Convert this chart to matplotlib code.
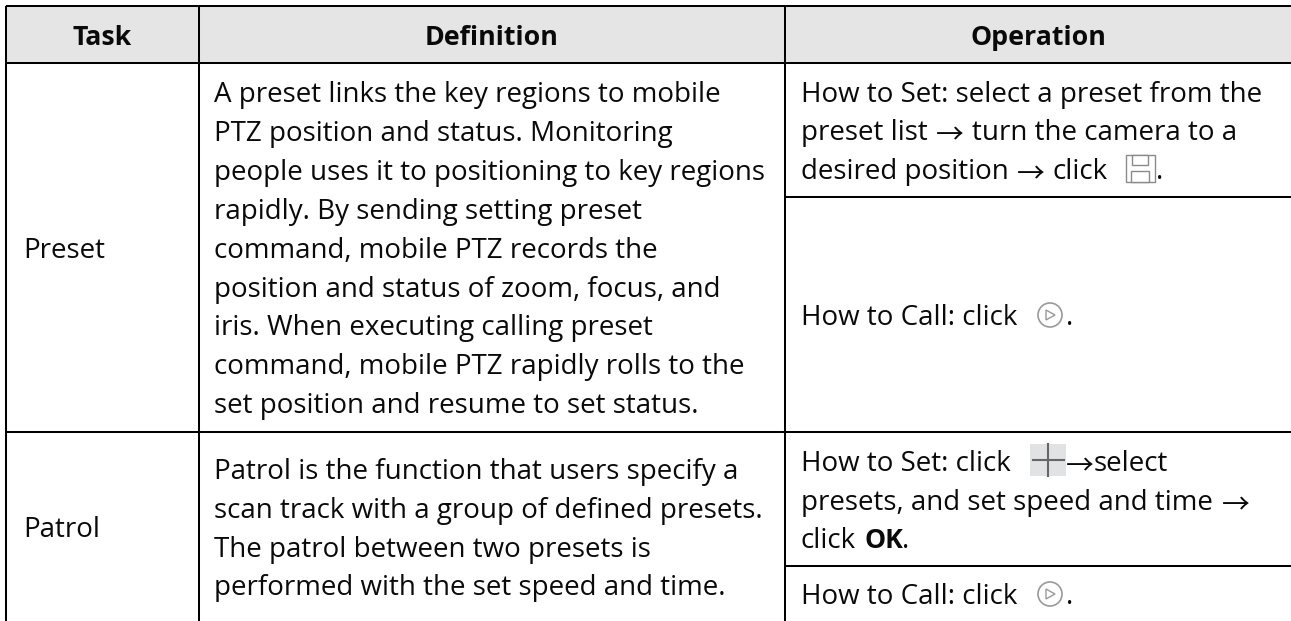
import matplotlib
matplotlib.use('Agg')
import matplotlib.pyplot as plt
from matplotlib.patches import Rectangle, Circle, Polygon

W, H = 1291, 621

headers = ['Task', 'Definition', 'Operation']
tasks = ['Preset', 'Patrol']
preset_definition = [
    'A preset links the key regions to mobile',
    'PTZ position and status. Monitoring',
    'people uses it to positioning to key regions',
    'rapidly. By sending setting preset',
    'command, mobile PTZ records the',
    'position and status of zoom, focus, and',
    'iris. When executing calling preset',
    'command, mobile PTZ rapidly rolls to the',
    'set position and resume to set status.',
]
patrol_definition = [
    'Patrol is the function that users specify a',
    'scan track with a group of defined presets.',
    'The patrol between two presets is',
    'performed with the set speed and time.',
]
how_to_call = 'How to Call: click'

COL_X = [6, 199, 785, 1291]
ROW_Y = [6, 62.5, 197, 432, 566, 621]
FONT = 'Open Sans'
SIZE = 20
ARROW = '\u2192'

fig = plt.figure(figsize=(W / 100, H / 100), dpi=100)
ax = fig.add_axes([0, 0, 1, 1])
ax.set_xlim(0, W)
ax.set_ylim(H, 0)
ax.axis('off')


def txt(x, y, s, size=SIZE, **kw):
    kw.setdefault('ha', 'left')
    return ax.text(x, y, s, family=[FONT, 'DejaVu Sans'], fontsize=size, va='baseline', color='#0a0a0a', **kw)


def arrow(x, y):
    ax.text(x, y + 3, ARROW, family='Noto Sans CJK SC', fontsize=SIZE, va='baseline', color='#0a0a0a')


ax.add_patch(Rectangle((COL_X[0], ROW_Y[0]), W - COL_X[0], ROW_Y[1] - ROW_Y[0], fc='#e5e5e5', ec='none'))

# table rules, the picture is cut off before a bottom rule
for y in [ROW_Y[0], ROW_Y[1], ROW_Y[3]]:
    ax.plot([COL_X[0], W], [y, y], color='black', lw=1.45, solid_capstyle='butt')
for y in [ROW_Y[2], ROW_Y[4]]:
    ax.plot([COL_X[2], W], [y, y], color='black', lw=1.45, solid_capstyle='butt')
for x in COL_X[:3]:
    ax.plot([x, x], [ROW_Y[0], ROW_Y[5]], color='black', lw=1.45, solid_capstyle='butt')

for i, h in enumerate(headers):
    cx = (COL_X[i] + COL_X[i + 1]) / 2
    txt(cx, 45, h, size=19.3, ha='center', fontweight='bold')

txt(23, 258, tasks[0])
txt(23, 537, tasks[1])

for i, line in enumerate(preset_definition):
    txt(214, 102 + i * 38.9, line)
for i, line in enumerate(patrol_definition):
    txt(214, 479 + i * 38.8, line)

# operation column
txt(801, 102, 'How to Set: select a preset from the')
txt(801, 140, 'preset list')
arrow(936, 140)
txt(972, 140, 'turn the camera to a')
txt(801, 179, 'desired position')
arrow(1017, 179)
txt(1052, 179, 'click')
txt(1156, 179, '.')

txt(801, 325, how_to_call)
txt(1066, 325, '.')

txt(801, 471, 'How to Set: click')
arrow(1066, 471)
txt(1094, 471, 'select')
txt(801, 510, 'presets, and set speed and time')
arrow(1222, 510)
txt(801, 548, 'click')
txt(864, 548, 'OK', size=19.3, fontweight='bold')
txt(902, 548, '.')
txt(801, 604, how_to_call)
txt(1066, 604, '.')

# save icon
ax.add_patch(Rectangle((1126, 155), 29, 27, fc='white', ec='#8a8a8a', lw=1))
ax.add_patch(Rectangle((1132, 155), 16, 10, fc='white', ec='#8a8a8a', lw=1))
ax.add_patch(Rectangle((1131, 171), 18, 11, fc='white', ec='#8a8a8a', lw=1))

# play icons
for cy in [315, 594]:
    ax.add_patch(Circle((1050, cy), 12, fc='white', ec='#999999', lw=1.2))
    ax.add_patch(Polygon([(1046, cy - 5), (1046, cy + 5), (1055, cy)], fc='white', ec='#999999', lw=1))

# add icon
ax.add_patch(Rectangle((1030, 444), 36, 32, fc='#e1e2e4', ec='none'))
ax.plot([1033, 1064], [460, 460], color='#666666', lw=1.5)
ax.plot([1048, 1048], [444, 476], color='#666666', lw=1.5)

fig.savefig('out.png', dpi=100)
